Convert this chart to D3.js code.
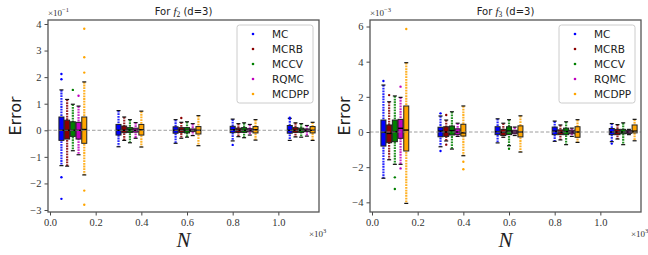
<!DOCTYPE html>
<html>
<head>
<meta charset="utf-8">
<script src="https://cdn.jsdelivr.net/npm/d3@7"></script>
<style>
  body { margin: 0; background: #fff; }
</style>
</head>
<body>
<svg id="chart" width="648" height="255"></svg>
<script>
const methods = ["MC", "MCRB", "MCCV", "RQMC", "MCDPP"]
const colors = ["#0000ff", "#8b0000", "#008000", "#bf00bf", "#ffa500"]
// first box of each group, in units of 10^3
const groupN = [0.05, 0.3, 0.55, 0.8, 1.05]
const methodStep = 0.025
const xTicks = [0, 0.2, 0.4, 0.6, 0.8, 1.0]

// f2, values in units of 10^-1, rows = groups, cols = methods
const f2Hi = [
	[1.52, 1.16, 0.98, 0.91, 1.82],
	[0.74, 0.50, 0.40, 0.29, 0.72],
	[0.40, 0.30, 0.32, 0.25, 0.55],
	[0.42, 0.25, 0.28, 0.22, 0.40],
	[0.45, 0.28, 0.25, 0.18, 0.30],
]
const f2Q3 = [
	[0.50, 0.38, 0.32, 0.30, 0.50],
	[0.22, 0.16, 0.10, 0.08, 0.22],
	[0.13, 0.10, 0.10, 0.05, 0.14],
	[0.15, 0.08, 0.10, 0.06, 0.14],
	[0.18, 0.10, 0.08, 0.05, 0.14],
]
const f2Med = [
	[0.0, 0.0, 0.0, 0.0, 0.03],
	[0.0, 0.0, 0.01, 0.0, 0.02],
	[0.0, 0.01, 0.0, 0.0, 0.0],
	[0.02, 0.0, 0.0, 0.0, 0.02],
	[0.0, 0.0, 0.0, 0.0, 0.0],
]
const f2Q1 = [
	[-0.38, -0.33, -0.23, -0.33, -0.49],
	[-0.18, -0.09, -0.08, -0.07, -0.18],
	[-0.11, -0.08, -0.10, -0.05, -0.14],
	[-0.09, -0.08, -0.08, -0.06, -0.10],
	[-0.11, -0.08, -0.08, -0.05, -0.10],
]
const f2Lo = [
	[-1.33, -1.35, -0.77, -0.92, -1.68],
	[-0.62, -0.38, -0.47, -0.30, -0.63],
	[-0.49, -0.30, -0.26, -0.20, -0.58],
	[-0.40, -0.24, -0.28, -0.18, -0.37],
	[-0.38, -0.25, -0.26, -0.22, -0.38],
]
// [group, method, value]
const f2Out = [
	[0, 0, 2.12], [0, 0, 1.92], [0, 0, -1.77], [0, 0, -2.58],
	[0, 2, 1.52], [0, 3, 1.30],
	[0, 4, 3.82], [0, 4, 2.75], [0, 4, 2.17], [0, 4, -2.27], [0, 4, -2.80],
	[2, 1, 0.46], [3, 0, -0.55], [4, 0, 0.47],
]

// f3, values in units of 10^-3
const f3Hi = [
	[2.67, 1.72, 2.05, 1.97, 3.94],
	[0.91, 0.68, 1.15, 0.50, 1.48],
	[0.75, 0.50, 0.70, 0.28, 0.92],
	[0.62, 0.40, 0.58, 0.22, 0.70],
	[0.48, 0.42, 0.52, 0.15, 0.72],
]
const f3Q3 = [
	[0.68, 0.40, 0.68, 0.72, 1.48],
	[0.27, 0.30, 0.34, 0.18, 0.44],
	[0.30, 0.15, 0.30, 0.10, 0.35],
	[0.28, 0.12, 0.22, 0.10, 0.30],
	[0.20, 0.15, 0.15, 0.08, 0.40],
]
const f3Med = [
	[-0.02, -0.08, 0.02, 0.21, 0.11],
	[0.05, 0.0, 0.08, 0.0, -0.05],
	[0.02, -0.02, 0.05, 0.0, 0.0],
	[0.05, -0.02, 0.03, 0.0, 0.0],
	[0.0, 0.0, 0.0, 0.0, 0.05],
]
const f3Q1 = [
	[-0.80, -0.61, -0.55, -0.36, -1.08],
	[-0.27, -0.25, -0.17, -0.15, -0.23],
	[-0.15, -0.20, -0.15, -0.10, -0.28],
	[-0.15, -0.15, -0.15, -0.10, -0.30],
	[-0.15, -0.15, -0.10, -0.08, -0.05],
]
const f3Lo = [
	[-2.63, -1.58, -1.84, -1.84, -4.06],
	[-0.84, -0.51, -0.97, -0.25, -1.35],
	[-0.62, -0.30, -0.78, -0.20, -1.14],
	[-0.53, -0.45, -0.72, -0.25, -0.59],
	[-0.55, -0.40, -0.72, -0.15, -0.50],
]
const f3Out = [
	[0, 0, 2.90], [0, 1, 2.10], [0, 2, -2.58], [0, 2, -3.24],
	[0, 3, 2.58], [0, 3, -2.07], [0, 4, 5.86],
	[1, 0, 1.06], [1, 0, -1.08], [1, 1, 0.97], [1, 1, -0.72],
	[1, 4, -1.69], [1, 4, -2.12], [2, 2, -0.95], [4, 0, -0.66],
]

const svg = d3.select("#chart")
const plotTop = 20, plotBottom = 212
const serif = "'Liberation Serif', 'DejaVu Serif', serif"
const sans = "'DejaVu Sans', sans-serif"

const panels = [
	{ left: 48, right: 319, fn: "2", exp: "−1", yDomain: [-3.075, 4.15], yTicks: d3.range(-3, 5, 1),
		hi: f2Hi, q3: f2Q3, med: f2Med, q1: f2Q1, lo: f2Lo, out: f2Out, labelX: 21 },
	{ left: 370, right: 641, fn: "3", exp: "−3", yDomain: [-4.55, 6.37], yTicks: d3.range(-4, 7, 2),
		hi: f3Hi, q3: f3Q3, med: f3Med, q1: f3Q1, lo: f3Lo, out: f3Out, labelX: 350 },
]

function drawPanel(p) {
	const x = d3.scaleLinear().domain([-0.0088, 1.178]).range([p.left, p.right])
	const y = d3.scaleLinear().domain(p.yDomain).range([plotBottom, plotTop])
	const g = svg.append("g")

	// boxes
	const boxes = []
	groupN.forEach((n, gi) => {
		methods.forEach((m, mi) => {
			boxes.push({
				pos: n + mi * methodStep, mi,
				hi: p.hi[gi][mi], q3: p.q3[gi][mi], med: p.med[gi][mi],
				q1: p.q1[gi][mi], lo: p.lo[gi][mi],
			})
		})
	})
	const bw = 5

	const bg = g.append("g")
	// samples column (dense dots along the whisker range)
	bg.selectAll(".samples")
		.data(boxes)
		.enter()
		.append("line")
		.attr("x1", d => x(d.pos)).attr("x2", d => x(d.pos))
		.attr("y1", d => y(d.hi)).attr("y2", d => y(d.lo))
		.attr("stroke", d => colors[d.mi])
		.attr("stroke-width", 2.2)
		.attr("stroke-dasharray", "1.8,0.9")
		.attr("opacity", 0.85)

	// caps
	bg.selectAll(".cap")
		.data(boxes.flatMap(d => [{ d, v: d.hi }, { d, v: d.lo }]))
		.enter()
		.append("line")
		.attr("x1", c => x(c.d.pos) - 2).attr("x2", c => x(c.d.pos) + 2)
		.attr("y1", c => y(c.v)).attr("y2", c => y(c.v))
		.attr("stroke", "#111")
		.attr("stroke-width", 1.2)

	bg.selectAll(".box")
		.data(boxes)
		.enter()
		.append("rect")
		.attr("x", d => x(d.pos) - bw / 2)
		.attr("width", bw)
		.attr("y", d => y(d.q3))
		.attr("height", d => Math.max(1, y(d.q1) - y(d.q3)))
		.attr("fill", d => colors[d.mi])
		.attr("stroke", "#222")
		.attr("stroke-width", 1)

	bg.selectAll(".median")
		.data(boxes)
		.enter()
		.append("line")
		.attr("x1", d => x(d.pos) - bw / 2).attr("x2", d => x(d.pos) + bw / 2)
		.attr("y1", d => y(d.med)).attr("y2", d => y(d.med))
		.attr("stroke", "#000")
		.attr("stroke-width", 1.4)

	bg.selectAll(".outlier")
		.data(p.out)
		.enter()
		.append("circle")
		.attr("cx", o => x(groupN[o[0]] + o[1] * methodStep))
		.attr("cy", o => y(o[2]))
		.attr("r", 1.2)
		.attr("fill", o => colors[o[1]])

	// zero line
	g.append("line")
		.attr("x1", p.left).attr("x2", p.right)
		.attr("y1", y(0)).attr("y2", y(0))
		.attr("stroke", "#888")
		.attr("stroke-width", 1)
		.attr("stroke-dasharray", "3.5,2")
		.attr("opacity", 0.8)

	// axes
	const xAxis = g.append("g")
		.attr("transform", `translate(0,${plotBottom})`)
		.call(d3.axisBottom(x).tickValues(xTicks).tickFormat(d3.format(".1f")).tickSizeOuter(0).tickSize(3.5))
	const yAxis = g.append("g")
		.attr("transform", `translate(${p.left},0)`)
		.call(d3.axisLeft(y).tickValues(p.yTicks).tickFormat(d => d < 0 ? "−" + Math.abs(d) : d).tickSizeOuter(0).tickSize(3.5))
	for (const ax of [xAxis, yAxis]) {
		ax.select(".domain").remove()
		ax.selectAll(".tick line").attr("stroke", "#333").attr("stroke-width", 0.9)
		ax.selectAll(".tick text")
			.attr("font-family", serif)
			.attr("font-size", 10.5)
			.attr("fill", "#333")
	}
	xAxis.selectAll(".tick text").attr("dy", "0.71em")

	// frame
	g.append("rect")
		.attr("x", p.left).attr("y", plotTop)
		.attr("width", p.right - p.left).attr("height", plotBottom - plotTop)
		.attr("fill", "none")
		.attr("stroke", "#555")
		.attr("stroke-width", 1.3)

	// offset labels
	const ey = g.append("text")
		.attr("x", p.left).attr("y", 16)
		.attr("font-family", serif).attr("font-size", 9).attr("fill", "#333")
	ey.append("tspan").text("×10")
	ey.append("tspan").attr("dy", -4).attr("font-size", 6.5).text(p.exp)

	const ex = g.append("text")
		.attr("x", p.right - 10).attr("y", 237)
		.attr("font-family", serif).attr("font-size", 9).attr("fill", "#333")
	ex.append("tspan").text("×10")
	ex.append("tspan").attr("dy", -4).attr("font-size", 6.5).text("3")

	// title
	const cx = (p.left + p.right) / 2
	const t = g.append("text")
		.attr("x", cx).attr("y", 15)
		.attr("text-anchor", "middle")
		.attr("font-family", sans).attr("font-size", 10).attr("fill", "#222")
	t.append("tspan").text("For ")
	t.append("tspan").attr("font-family", serif).attr("font-style", "italic").attr("font-size", 11).text("f")
	t.append("tspan").attr("font-family", serif).attr("font-size", 7.5).attr("dy", 2).text(p.fn)
	t.append("tspan").attr("dy", -2).text(" (d=3)")

	// axis labels
	g.append("text")
		.attr("x", cx).attr("y", 247)
		.attr("text-anchor", "middle")
		.attr("font-family", serif).attr("font-style", "italic")
		.attr("font-size", 21).attr("fill", "#222")
		.text("N")
	g.append("text")
		.attr("transform", `translate(${p.labelX},${(plotTop + plotBottom) / 2}) rotate(-90)`)
		.attr("text-anchor", "middle")
		.attr("font-family", sans).attr("font-size", 16).attr("fill", "#222")
		.text("Error")

	// legend
	const lx = p.right - 82, ly = 25
	const leg = g.append("g").attr("transform", `translate(${lx},${ly})`)
	leg.append("rect")
		.attr("width", 76).attr("height", 78).attr("rx", 2.5)
		.attr("fill", "#fff").attr("fill-opacity", 0.85)
		.attr("stroke", "#ccc").attr("stroke-width", 1)
	methods.forEach((m, i) => {
		const row = leg.append("g").attr("transform", `translate(0,${9 + i * 15})`)
		row.append("circle").attr("cx", 16).attr("cy", 0).attr("r", 1.3).attr("fill", colors[i])
		row.append("text")
			.attr("x", 35).attr("y", 0).attr("dy", "0.36em")
			.attr("font-family", sans).attr("font-size", 10.5).attr("fill", "#222")
			.text(m)
	})
}

panels.forEach(drawPanel)
</script>
</body>
</html>
